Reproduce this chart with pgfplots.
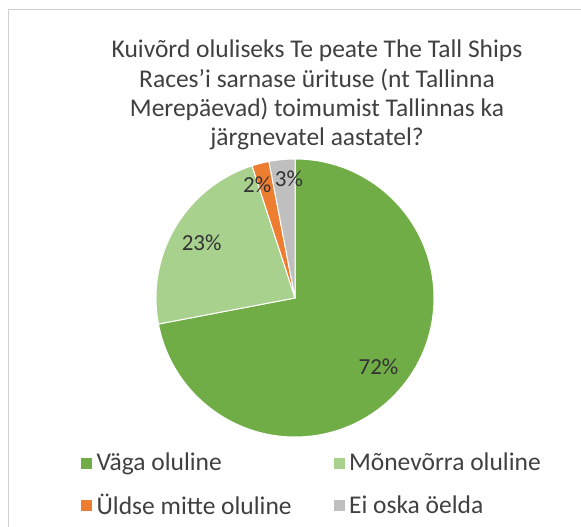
\documentclass[border=0pt]{standalone}
\usepackage{pgfplots}
\pgfplotsset{compat=1.18}
\usepackage{pgfplotstable}
\usepackage{fontspec}
\setmainfont{Carlito}

\definecolor{vaga}{HTML}{70AD47}
\definecolor{mone}{HTML}{A9D18E}
\definecolor{ylds}{HTML}{ED7D31}
\definecolor{eios}{HTML}{BFBFBF}
\definecolor{txt}{HTML}{404040}

% share (%), colour, label distance (fraction of radius), label angle shift
\pgfplotstableread{
value col lr da
72 vaga 0.78 0
23 mone 0.78 0
2  ylds 0.86 4
3  eios 0.86 -2.5
}\piedata

\begin{document}
\begin{tikzpicture}[text=txt]
\begin{axis}[
  width=581pt, height=527pt, scale only axis,
  xmin=0, xmax=581, ymin=0, ymax=527,
  hide axis, clip=false,
  legend columns=2, legend cell align=left,
  legend style={at={(axis cs:81,76)}, anchor=north west, draw=none, fill=none,
    font=\fontsize{25.5}{29}\selectfont, text=txt, inner sep=0pt,
    /tikz/every odd column/.append style={column sep=3pt},
    /tikz/every even column/.append style={column sep=40pt},
    row sep=18pt},
  legend image code/.code={\fill[#1] (0pt,-5pt) rectangle (10pt,5pt);},
]
\coordinate (ll) at (axis cs:0,0);
\coordinate (ur) at (axis cs:581,527);
\draw[black!18, line width=1pt] (axis cs:581,517) -- (axis cs:8,517) -- (axis cs:8,0);

\node[align=center, font=\fontsize{25.5}{29.3}\selectfont] at (axis cs:317,432)
  {Kuivõrd oluliseks Te peate The Tall Ships\\Races’i sarnase ürituse (nt Tallinna\\Merepäevad) toimumist Tallinnas ka\\järgnevatel aastatel?};

\pgfplotstablegetrowsof{\piedata}
\pgfmathtruncatemacro{\nrows}{\pgfplotsretval-1}
\def\cum{0}
\pgfplotsforeachungrouped \i in {0,...,\nrows}{
  \pgfplotstablegetelem{\i}{value}\of{\piedata}\let\v\pgfplotsretval
  \pgfplotstablegetelem{\i}{col}\of{\piedata}\let\c\pgfplotsretval
  \pgfplotstablegetelem{\i}{lr}\of{\piedata}\let\lr\pgfplotsretval
  \pgfplotstablegetelem{\i}{da}\of{\piedata}\let\da\pgfplotsretval
  \pgfmathsetmacro{\a}{90-3.6*\cum}
  \pgfmathsetmacro{\b}{90-3.6*(\cum+\v)}
  \pgfmathsetmacro{\m}{(\a+\b)/2+\da}
  \pgfmathsetmacro{\lx}{295+139*\lr*cos(\m)}
  \pgfmathsetmacro{\ly}{229+139*\lr*sin(\m)}
  \pgfmathtruncatemacro{\vv}{\v}
  \edef\tmp{\noexpand\fill[\c, draw=white, line width=1pt] (axis cs:295,229) -- ++(\a:139pt) arc[start angle=\a, end angle=\b, radius=139pt] -- cycle;
    \noexpand\node[text=black!80, inner sep=0pt, font=\noexpand\fontsize{23}{27}\noexpand\selectfont] at (axis cs:\lx,\ly) {\vv\noexpand\%};}
  \tmp
  \pgfmathsetmacro{\cum}{\cum+\v}
}

\addlegendimage{vaga}\addlegendentry{Väga oluline}
\addlegendimage{mone}\addlegendentry{Mõnevõrra oluline}
\addlegendimage{ylds}\addlegendentry{Üldse mitte oluline}
\addlegendimage{eios}\addlegendentry{Ei oska öelda}
\end{axis}
\pgfresetboundingbox
\path[use as bounding box] (ll) rectangle (ur);
\end{tikzpicture}
\end{document}
